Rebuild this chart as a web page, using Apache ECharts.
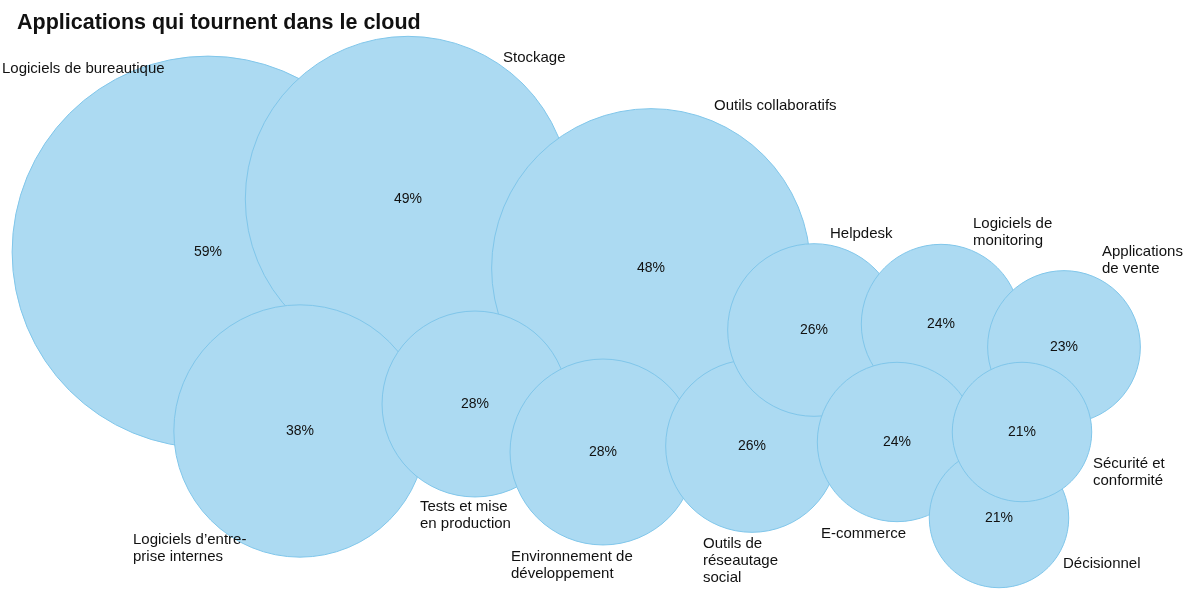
<!DOCTYPE html>
<html><head><meta charset="utf-8">
<script src="https://cdn.jsdelivr.net/npm/echarts@6/dist/echarts.min.js"></script>
<style>html,body{margin:0;padding:0;background:#fff}#c{width:1200px;height:612px}</style>
</head><body><div id="c"></div>
<script>
const categories = ["Logiciels de bureautique","Stockage","Outils collaboratifs","Logiciels d’entre-\nprise internes","Tests et mise\nen production","Environnement de\ndéveloppement","Outils de\nréseautage\nsocial","Helpdesk","Logiciels de\nmonitoring","Applications\nde vente","E-commerce","Décisionnel","Sécurité et\nconformité"];
const values = [59,49,48,38,28,28,26,26,24,23,24,21,21];
const centerX = [208,408,651,300,475,603,752,814,941,1064,897,999,1022];
const centerY = [252,199,268,431,404,452,446,330,324,347,442,518,432];

// layout for the outside name labels (left edge, middle of first line)
const nameLabelX = [2,503,714,133,420,511,703,830,973,1102,821,1063,1093];
const nameLabelY = [68,57,105,539,506,556,543,233,223,251,533,563,463];

const diamPerPoint = 6.64;
const font = "'Liberation Sans', Arial, sans-serif";

const bubbleData = values.map((v,i)=>({name:categories[i], value:[centerX[i], centerY[i], v]}));
const nameData = categories.map((n,i)=>({name:n, value:[nameLabelX[i], nameLabelY[i]]}));

const chart = echarts.init(document.getElementById('c'), null, {renderer:'canvas'});
chart.setOption({
  animation:false,
  title:{text:'Applications qui tournent dans le cloud', left:12, top:7,
    textStyle:{fontFamily:font, fontSize:21.5, fontWeight:'bold', color:'#111'}},
  grid:{left:0,right:0,top:0,bottom:0},
  xAxis:{type:'value', min:0, max:1200, show:false},
  yAxis:{type:'value', min:0, max:612, inverse:true, show:false},
  series:[
    {type:'scatter', silent:true, data:bubbleData,
     symbolSize:(d)=>d[2]*diamPerPoint,
     itemStyle:{color:'#acdaf2', borderColor:'#80c6ea', borderWidth:1, opacity:1},
     label:{show:true, position:'inside', formatter:(p)=>p.value[2]+'%',
       fontFamily:font, fontSize:14, color:'#111'}},
    {type:'scatter', silent:true, data:nameData, symbolSize:0,
     itemStyle:{opacity:1},
     label:{show:true, position:[0,0], align:'left', verticalAlign:'top', padding:[-8,0,0,0],
       formatter:(p)=>p.name, fontFamily:font, fontSize:15, lineHeight:17, color:'#111'}}
  ]
});
</script></body></html>
